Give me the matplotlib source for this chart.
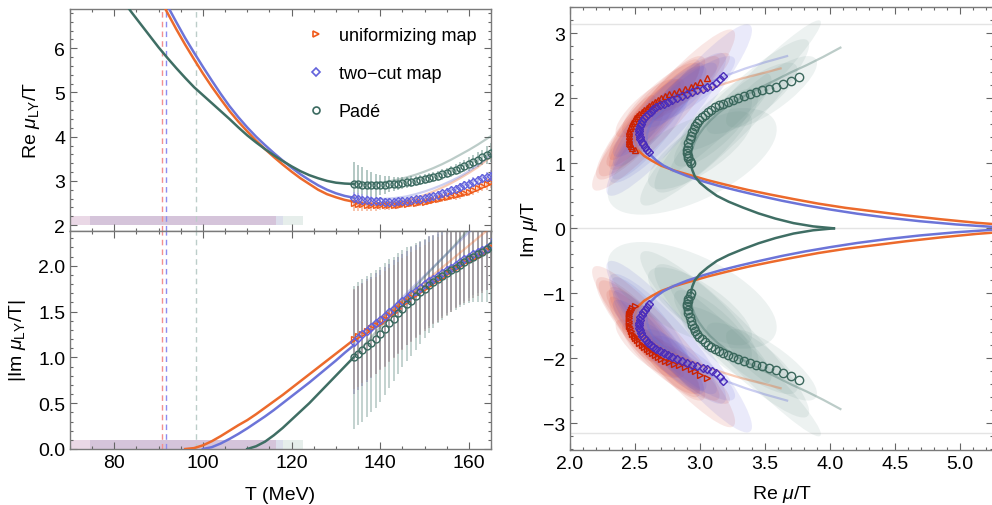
import numpy as np
import matplotlib
matplotlib.use("Agg")
import matplotlib.pyplot as plt
from matplotlib.patches import Ellipse, Rectangle
from matplotlib.lines import Line2D
from matplotlib.ticker import MultipleLocator, FormatStrFormatter

plt.rcParams['font.family'] = ['Liberation Sans', 'DejaVu Sans']
plt.rcParams['font.size'] = 14
plt.rcParams['mathtext.fontset'] = 'custom'
plt.rcParams['mathtext.rm'] = 'Liberation Sans'
plt.rcParams['mathtext.it'] = 'Liberation Sans:italic'
plt.rcParams['axes.unicode_minus'] = True

# ---------------- data ----------------
labels = ["uniformizing map", "two\u2212cut map", "Padé"]

# fit curves (temperature grid in MeV)
T_fit = list(range(80, 168, 2))
fit_re_unif = [9.33, 8.87, 8.42, 7.99, 7.58, 7.18, 6.80, 6.43, 6.08, 5.75,
               5.43, 5.13, 4.85, 4.58, 4.34, 4.12, 3.91, 3.72, 3.54, 3.37,
               3.21, 3.06, 2.93, 2.80, 2.70, 2.63, 2.57, 2.53, 2.51, 2.50,
               2.50, 2.51, 2.53, 2.57, 2.62, 2.68, 2.76, 2.85, 2.95, 3.06,
               3.18, 3.31, 3.47, 3.62]
fit_im_unif = [0, 0, 0, 0, 0, 0, 0, 0, 0, 0.01,
               0.04, 0.085, 0.14, 0.20, 0.26, 0.315, 0.38, 0.45, 0.52, 0.59,
               0.665, 0.74, 0.815, 0.89, 0.965, 1.04, 1.115, 1.19, 1.265, 1.34,
               1.42, 1.50, 1.58, 1.66, 1.74, 1.82, 1.90, 1.98, 2.06, 2.14,
               2.22, 2.30, 2.38, 2.46]
fit_re_twocut = [9.50, 9.05, 8.60, 8.17, 7.75, 7.35, 6.96, 6.59, 6.23, 5.90,
                 5.58, 5.27, 4.97, 4.69, 4.44, 4.21, 4.00, 3.81, 3.63, 3.46,
                 3.30, 3.15, 3.02, 2.90, 2.80, 2.72, 2.66, 2.62, 2.60, 2.59,
                 2.59, 2.60, 2.62, 2.65, 2.70, 2.76, 2.83, 2.91, 3.00, 3.10,
                 3.22, 3.35, 3.50, 3.67]
fit_im_twocut = [0, 0, 0, 0, 0, 0, 0, 0, 0, 0,
                 0, 0.02, 0.06, 0.11, 0.165, 0.225, 0.29, 0.355, 0.425, 0.50,
                 0.575, 0.65, 0.725, 0.805, 0.885, 0.965, 1.05, 1.13, 1.225, 1.32,
                 1.415, 1.51, 1.605, 1.70, 1.795, 1.89, 1.985, 2.08, 2.175, 2.27,
                 2.365, 2.46, 2.555, 2.65]
fit_re_pade = [7.35, 7.07, 6.80, 6.54, 6.28, 6.02, 5.78, 5.55, 5.33, 5.12,
               4.94, 4.76, 4.58, 4.40, 4.21, 4.03, 3.87, 3.72, 3.58, 3.45,
               3.33, 3.22, 3.13, 3.06, 3.00, 2.96, 2.94, 2.93, 2.93, 2.94,
               2.96, 2.99, 3.03, 3.08, 3.14, 3.21, 3.29, 3.38, 3.48, 3.59,
               3.70, 3.82, 3.95, 4.08]
fit_im_pade = [0, 0, 0, 0, 0, 0, 0, 0, 0, 0,
               0, 0, 0, 0, 0, 0, 0.03, 0.08, 0.15, 0.23,
               0.32, 0.41, 0.50, 0.60, 0.70, 0.80, 0.90, 1.00, 1.11, 1.22,
               1.33, 1.44, 1.55, 1.66, 1.77, 1.88, 1.98, 2.08, 2.18, 2.29,
               2.40, 2.51, 2.64, 2.78]

# lattice-based estimates
T_data = list(range(134, 168))
re_unif = [2.50, 2.48, 2.47, 2.46, 2.455, 2.45, 2.45, 2.45, 2.45, 2.455,
           2.46, 2.47, 2.48, 2.49, 2.50, 2.515, 2.53, 2.55, 2.57, 2.59,
           2.61, 2.63, 2.65, 2.675, 2.70, 2.73, 2.76, 2.80, 2.84, 2.885,
           2.93, 2.965, 3.00, 3.05]
im_unif = [1.20, 1.23, 1.26, 1.29, 1.32, 1.35, 1.38, 1.42, 1.46, 1.50,
           1.54, 1.58, 1.62, 1.655, 1.69, 1.725, 1.76, 1.79, 1.82, 1.85,
           1.88, 1.915, 1.95, 1.98, 2.01, 2.035, 2.06, 2.085, 2.11, 2.14,
           2.17, 2.20, 2.25, 2.31]
re_twocut = [2.61, 2.59, 2.575, 2.56, 2.55, 2.54, 2.535, 2.53, 2.53, 2.53,
             2.535, 2.545, 2.555, 2.57, 2.585, 2.60, 2.62, 2.64, 2.665, 2.69,
             2.72, 2.75, 2.785, 2.82, 2.86, 2.90, 2.94, 2.98, 3.02, 3.055,
             3.09, 3.12, 3.15, 3.18]
im_twocut = [1.17, 1.21, 1.25, 1.29, 1.33, 1.37, 1.41, 1.45, 1.49, 1.53,
             1.57, 1.61, 1.65, 1.69, 1.725, 1.76, 1.795, 1.83, 1.86, 1.89,
             1.92, 1.95, 1.98, 2.01, 2.04, 2.07, 2.10, 2.125, 2.15, 2.17,
             2.19, 2.23, 2.29, 2.35]
re_pade = [2.93, 2.92, 2.91, 2.905, 2.90, 2.90, 2.905, 2.91, 2.92, 2.93,
           2.94, 2.955, 2.965, 2.98, 2.995, 3.015, 3.035, 3.06, 3.085, 3.115,
           3.145, 3.18, 3.215, 3.255, 3.295, 3.34, 3.385, 3.43, 3.48, 3.53,
           3.585, 3.64, 3.70, 3.76]
im_pade = [1.00, 1.04, 1.08, 1.12, 1.16, 1.20, 1.25, 1.31, 1.37, 1.42,
           1.48, 1.53, 1.58, 1.62, 1.665, 1.71, 1.75, 1.79, 1.825, 1.86,
           1.89, 1.92, 1.95, 1.98, 2.01, 2.04, 2.07, 2.10, 2.125, 2.15,
           2.18, 2.22, 2.27, 2.33]

re_err_unif = [0.17, 0.16, 0.15, 0.14, 0.13, 0.12, 0.11, 0.10, 0.10, 0.09,
               0.09, 0.08, 0.08, 0.08, 0.08, 0.08, 0.08, 0.08, 0.08, 0.08,
               0.09, 0.09, 0.09, 0.10, 0.10, 0.10, 0.11, 0.11, 0.12, 0.12,
               0.13, 0.13, 0.14, 0.14]
re_err_twocut = [0.14, 0.13, 0.12, 0.12, 0.11, 0.10, 0.10, 0.09, 0.09, 0.08,
                 0.08, 0.08, 0.07, 0.07, 0.07, 0.07, 0.07, 0.07, 0.07, 0.08,
                 0.08, 0.08, 0.08, 0.09, 0.09, 0.09, 0.10, 0.10, 0.10, 0.11,
                 0.11, 0.12, 0.12, 0.13]
re_err_pade = [0.50, 0.45, 0.40, 0.35, 0.30, 0.26, 0.23, 0.20, 0.18, 0.16,
               0.15, 0.14, 0.13, 0.12, 0.12, 0.11, 0.11, 0.11, 0.11, 0.11,
               0.12, 0.12, 0.12, 0.13, 0.13, 0.14, 0.15, 0.16, 0.17, 0.18,
               0.20, 0.22, 0.24, 0.26]
im_err_unif = [0.55, 0.55, 0.54, 0.54, 0.53, 0.53, 0.52, 0.52, 0.51, 0.51,
               0.50, 0.50, 0.49, 0.49, 0.48, 0.48, 0.47, 0.47, 0.46, 0.46,
               0.45, 0.45, 0.45, 0.44, 0.44, 0.44, 0.44, 0.44, 0.44, 0.44,
               0.44, 0.45, 0.45, 0.46]
im_err_twocut = [0.57, 0.57, 0.56, 0.56, 0.55, 0.55, 0.54, 0.54, 0.53, 0.53,
                 0.52, 0.52, 0.51, 0.51, 0.50, 0.50, 0.49, 0.49, 0.48, 0.48,
                 0.47, 0.47, 0.46, 0.46, 0.46, 0.45, 0.45, 0.45, 0.45, 0.45,
                 0.45, 0.46, 0.46, 0.47]
im_err_pade = [0.78, 0.78, 0.78, 0.77, 0.76, 0.75, 0.74, 0.72, 0.70, 0.68,
               0.66, 0.64, 0.62, 0.60, 0.58, 0.56, 0.54, 0.52, 0.50, 0.49,
               0.48, 0.47, 0.46, 0.46, 0.46, 0.47, 0.48, 0.50, 0.52, 0.55,
               0.58, 0.60, 0.62, 0.64]

# error ellipses in the complex plane (upper half; lower half is conjugate)
ell_re_unif = [2.72, 2.62, 2.55, 2.70, 2.85, 2.50, 2.60, 2.95, 2.48, 2.65]
ell_im_unif = [1.82, 1.70, 1.55, 2.00, 2.15, 1.40, 1.85, 2.25, 1.55, 1.75]
ell_sx_unif = [0.55, 0.42, 0.33, 0.30, 0.30, 0.22, 0.25, 0.28, 0.18, 0.35]
ell_sy_unif = [1.24, 0.95, 0.75, 0.55, 0.50, 0.45, 0.45, 0.45, 0.50, 0.85]
ell_rho_unif = [0.93, 0.90, 0.88, 0.85, 0.85, 0.85, 0.80, 0.85, 0.85, 0.90]

ell_re_twocut = [2.84, 2.75, 2.62, 2.75, 2.95, 2.58, 2.68, 2.85]
ell_im_twocut = [1.82, 1.70, 1.45, 1.95, 2.15, 1.60, 1.75, 2.05]
ell_sx_twocut = [0.56, 0.45, 0.30, 0.30, 0.32, 0.25, 0.35, 0.28]
ell_sy_twocut = [1.32, 1.00, 0.70, 0.55, 0.50, 0.50, 0.80, 0.50]
ell_rho_twocut = [0.93, 0.90, 0.88, 0.85, 0.85, 0.85, 0.90, 0.85]

ell_re_pade = [2.94, 3.19, 3.35, 3.05, 3.20, 3.40, 3.55, 3.10, 3.00]
ell_im_pade = [1.03, 1.63, 2.03, 1.35, 1.80, 2.00, 2.10, 1.50, 1.20]
ell_sx_pade = [0.65, 0.65, 0.58, 0.40, 0.35, 0.35, 0.35, 0.30, 0.40]
ell_sy_pade = [0.82, 1.28, 1.17, 0.80, 0.60, 0.55, 0.55, 0.55, 0.60]
ell_rho_pade = [0.60, 0.93, 0.97, 0.85, 0.80, 0.80, 0.80, 0.80, 0.75]

# Lee-Yang onset temperatures (dashed) and ranges (bands)
T_dash = [90.8, 91.7, 98.4]
band_lo = [70.0, 74.5, 74.5]
band_hi = [116.5, 118.0, 122.5]

T_split = 134

# ---------------- style ----------------
C_LINE = ['#ec6a2c', '#6c74d8', '#3f6e64']
C_MARK = ['#f05a1a', '#6262dc', '#3b6a60']
C_DARK = ['#cc2200', '#4a2cba', '#3a675c']
C_ELL = ['#d8483a', '#5a5ad8', '#5f8a82']
A_ELL = [0.13, 0.12, 0.11]
C_ERR_RE = ['#f5b394', '#a8a8e8', '#9fbab4']
C_ERR_IM = ['#a69c9c', '#9696b0', '#a8bfba']
C_DASH = ['#f29090', '#8c8cf0', '#bccdc9']
C_BAND = [(0.80, 0.62, 0.76), (0.76, 0.72, 0.93), (0.62, 0.74, 0.70)]
A_BAND = [0.40, 0.28, 0.25]
MK = ['>', 'D', 'o']
MS_L = [4.5, 3.8, 5.0]
MS_R = [5.0, 4.2, 6.0]

series = [
    dict(fre=fit_re_unif, fim=fit_im_unif, re=re_unif, im=im_unif,
         rerr=re_err_unif, ierr=im_err_unif,
         ell=(ell_re_unif, ell_im_unif, ell_sx_unif, ell_sy_unif, ell_rho_unif)),
    dict(fre=fit_re_twocut, fim=fit_im_twocut, re=re_twocut, im=im_twocut,
         rerr=re_err_twocut, ierr=im_err_twocut,
         ell=(ell_re_twocut, ell_im_twocut, ell_sx_twocut, ell_sy_twocut, ell_rho_twocut)),
    dict(fre=fit_re_pade, fim=fit_im_pade, re=re_pade, im=im_pade,
         rerr=re_err_pade, ierr=im_err_pade,
         ell=(ell_re_pade, ell_im_pade, ell_sx_pade, ell_sy_pade, ell_rho_pade)),
]

FRAME = '#7a7a7a'


def style_axes(ax):
    for s in ax.spines.values():
        s.set_color(FRAME)
        s.set_linewidth(1.0)
    ax.tick_params(which='both', direction='in', top=True, right=True,
                   color='#666666', labelsize=14, width=0.8)
    ax.tick_params(which='major', length=5)
    ax.tick_params(which='minor', length=2.5)


def ellipse_from(cx, cy, sx, sy, rho, **kw):
    cov = np.array([[sx * sx, rho * sx * sy], [rho * sx * sy, sy * sy]])
    vals, vecs = np.linalg.eigh(cov)
    big = vecs[:, 1]
    ang = np.degrees(np.arctan2(big[1], big[0]))
    return Ellipse((cx, cy), 2 * np.sqrt(vals[1]), 2 * np.sqrt(vals[0]),
                   angle=ang, **kw)


fig = plt.figure(figsize=(9.92, 5.06), dpi=100)
ax_re = fig.add_axes([70 / 992, 1 - 231.5 / 506, 421 / 992, 221.5 / 506])
ax_im = fig.add_axes([70 / 992, 1 - 450 / 506, 421 / 992, 218.5 / 506], sharex=ax_re)
ax_c = fig.add_axes([570 / 992, 1 - 451 / 506, 423 / 992, 443 / 506])

Tf = np.array(T_fit, dtype=float)
Td = np.array(T_data, dtype=float)
main = Tf <= T_split
cont = Tf >= T_split

# bands and dashed lines
for ax, (ylo, yhi) in ((ax_re, (2.0, 2.2)), (ax_im, (0.0, 0.1))):
    for k in (2, 1, 0):
        ax.add_patch(Rectangle((band_lo[k], ylo), band_hi[k] - band_lo[k], yhi - ylo,
                               facecolor=C_BAND[k], alpha=A_BAND[k], lw=0, zorder=1))
    for k in range(3):
        ax.axvline(T_dash[k], color=C_DASH[k], lw=1.0, ls=(0, (4, 3)), zorder=1)

# left panels
for k, s in enumerate(series):
    fre = np.array(s['fre'])
    fim = np.array(s['fim'])
    ax_re.plot(Tf[main], fre[main], color=C_LINE[k], lw=1.8, zorder=3)
    ax_re.plot(Tf[cont], fre[cont], color=C_LINE[k], lw=1.6, alpha=0.35, zorder=3)
    start = np.where(fim == 0)[0].max()
    on = np.arange(len(Tf)) >= start
    ax_im.plot(Tf[on & main], fim[on & main], color=C_LINE[k], lw=1.8, zorder=3)
    ax_im.plot(Tf[cont], fim[cont], color=C_LINE[k], lw=1.6, alpha=0.35, zorder=3)

for k in (2, 1, 0):
    s = series[k]
    ax_re.errorbar(Td, s['re'], yerr=s['rerr'], fmt='none', ecolor=C_ERR_RE[k],
                   elinewidth=1.3, alpha=0.85, zorder=2)
    ax_im.errorbar(Td, s['im'], yerr=s['ierr'], fmt='none', ecolor=C_ERR_IM[k],
                   elinewidth=1.3, alpha=0.75, zorder=2)
for k in range(3):
    s = series[k]
    for ax, y in ((ax_re, s['re']), (ax_im, s['im'])):
        ax.plot(Td, y, ls='none', marker=MK[k], ms=MS_L[k], mfc='none',
                mec=C_MARK[k], mew=1.0, zorder=4)

ax_re.set_xlim(70, 165)
ax_re.set_ylim(1.878, 6.889)
ax_im.set_ylim(0, 2.384)
ax_re.yaxis.set_major_locator(MultipleLocator(1))
ax_re.yaxis.set_minor_locator(MultipleLocator(0.2))
ax_im.yaxis.set_major_locator(MultipleLocator(0.5))
ax_im.yaxis.set_minor_locator(MultipleLocator(0.1))
ax_im.xaxis.set_major_locator(MultipleLocator(20))
ax_im.xaxis.set_minor_locator(MultipleLocator(5))
ax_im.yaxis.set_major_formatter(FormatStrFormatter('%.1f'))
for ax in (ax_re, ax_im):
    style_axes(ax)
ax_re.tick_params(labelbottom=False)
ax_re.set_ylabel(r'Re $\mu_{\mathrm{LY}}/\mathrm{T}$', fontsize=14)
ax_re.yaxis.set_label_coords(-0.067, 0.5)
ax_im.set_ylabel(r'|Im $\mu_{\mathrm{LY}}/\mathrm{T}$|', fontsize=14)
ax_im.yaxis.set_label_coords(-0.100, 0.5)
ax_im.set_xlabel('T (MeV)', fontsize=14)
ax_im.xaxis.set_label_coords(0.5, -0.168)

handles = [Line2D([], [], ls='none', marker=MK[k], ms=MS_L[k], mfc='none',
                  mec=C_MARK[k], mew=1.2) for k in range(3)]
ax_re.legend(handles, labels, loc='upper left', bbox_to_anchor=(0.525, 0.99),
             frameon=False, fontsize=13, handlelength=1.0, handletextpad=0.75,
             labelspacing=1.15, borderpad=0.4)

# right panel: complex plane
for yv in (-np.pi, 0.0, np.pi):
    ax_c.axhline(yv, color='#e4e4e4', lw=1.0, zorder=0)

for k, s in enumerate(series):
    cx, cy, sx, sy, rho = s['ell']
    for i in range(len(cx)):
        for sign in (1, -1):
            ax_c.add_patch(ellipse_from(cx[i], sign * cy[i], sx[i], sy[i], sign * rho[i],
                                        facecolor=C_ELL[k], edgecolor='none',
                                        alpha=A_ELL[k], zorder=1))

for k, s in enumerate(series):
    fre = np.array(s['fre'])
    fim = np.array(s['fim'])
    start = np.where(fim == 0)[0].max()
    on = np.arange(len(Tf)) >= start
    for sign in (1, -1):
        ax_c.plot(fre[on & main], sign * fim[on & main], color=C_LINE[k], lw=1.8, zorder=3)
        ax_c.plot(fre[cont], sign * fim[cont], color=C_LINE[k], lw=1.6, alpha=0.35, zorder=3)

MK_UP = ['^', 'D', 'o']
for k, s in enumerate(series):
    re = np.array(s['re'])
    im = np.array(s['im'])
    ax_c.plot(re, im, ls='none', marker=MK_UP[k], ms=MS_R[k], mfc='none',
              mec=C_DARK[k], mew=1.0, zorder=4)
    ax_c.plot(re, -im, ls='none', marker=MK[k], ms=MS_R[k], mfc='none',
              mec=C_DARK[k], mew=1.0, zorder=4)

ax_c.set_xlim(2.0, 2.0 + 423 / 130)
ax_c.set_ylim(-3.41, 3.405)
ax_c.xaxis.set_major_locator(MultipleLocator(0.5))
ax_c.xaxis.set_minor_locator(MultipleLocator(0.1))
ax_c.yaxis.set_major_locator(MultipleLocator(1))
ax_c.yaxis.set_minor_locator(MultipleLocator(0.2))
ax_c.xaxis.set_major_formatter(FormatStrFormatter('%.1f'))
style_axes(ax_c)
ax_c.set_xlabel(r'Re $\mu/\mathrm{T}$', fontsize=14)
ax_c.xaxis.set_label_coords(0.5, -0.075)
ax_c.set_ylabel(r'Im $\mu/\mathrm{T}$', fontsize=14)
ax_c.yaxis.set_label_coords(-0.071, 0.5)

fig.savefig('out.png', dpi=100)
